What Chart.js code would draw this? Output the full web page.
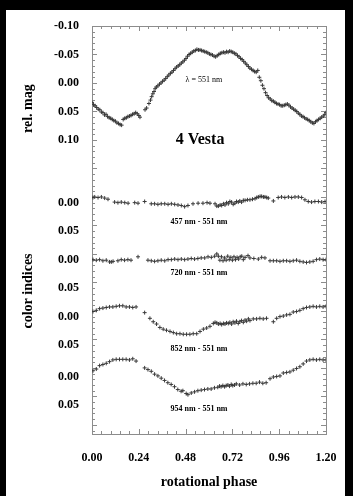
<!DOCTYPE html>
<html>
<head>
<meta charset="utf-8">
<script src="https://cdn.jsdelivr.net/npm/chart.js@4.4.1/dist/chart.umd.min.js"></script>
<style>
  html, body { margin: 0; padding: 0; background: #000; }
  body { width: 353px; height: 496px; position: relative; overflow: hidden; }
  #sheet { position: absolute; left: 6px; top: 10px; width: 339px; height: 486px; background: #fff; }
</style>
</head>
<body>
<div id="sheet"><canvas id="vesta" width="339" height="486"></canvas></div>
<script>
// rotational phase axis
const phaseTicks = [0, 0.24, 0.48, 0.72, 0.96, 1.20];
const phaseTickLabels = ["0.00", "0.24", "0.48", "0.72", "0.96", "1.20"];

// left axis: rel. mag on top, four colour-index strips stacked underneath
const magTicks = [-0.10, -0.05, 0.00, 0.05, 0.10, 0.21, 0.26, 0.31, 0.36, 0.41, 0.46, 0.515, 0.565];
const magTickLabels = ["-0.10", "-0.05", "0.00", "0.05", "0.10", "0.00", "0.05", "0.00", "0.05", "0.00", "0.05", "0.00", "0.05"];

// zero level of each colour-index strip on the shared axis
const zero457 = 0.21, zero720 = 0.31, zero852 = 0.41, zero954 = 0.515;

// lightcurve at 551 nm
const lightPhase = [
  0.000, 0.008, 0.016, 0.024, 0.032, 0.040, 0.048, 0.056, 0.064, 0.072, 0.080, 0.088, 0.096, 0.104, 0.112, 0.120,
  0.128, 0.136, 0.144, 0.152, 0.160, 0.168, 0.176, 0.184, 0.192, 0.200, 0.208, 0.216, 0.224, 0.232, 0.240, 0.246,
  0.272, 0.280, 0.292, 0.300, 0.306, 0.312, 0.318, 0.324, 0.330, 0.338, 0.346, 0.354, 0.362, 0.370, 0.378, 0.386,
  0.394, 0.402, 0.410, 0.418, 0.426, 0.434, 0.442, 0.450, 0.458, 0.466, 0.474, 0.482, 0.490, 0.498, 0.506, 0.514,
  0.522, 0.530, 0.538, 0.546, 0.554, 0.562, 0.570, 0.578, 0.586, 0.594, 0.602, 0.610, 0.618, 0.626, 0.634, 0.642,
  0.650, 0.658, 0.666, 0.674, 0.682, 0.690, 0.698, 0.706, 0.714, 0.722, 0.730, 0.738, 0.746, 0.754, 0.762, 0.770,
  0.778, 0.786, 0.794, 0.802, 0.810, 0.818, 0.826, 0.834, 0.842, 0.850, 0.858, 0.866, 0.874, 0.882, 0.890, 0.898,
  0.906, 0.914, 0.922, 0.930, 0.938, 0.946, 0.954, 0.962, 0.970, 0.978, 0.986, 0.994, 1.002, 1.010, 1.018, 1.026,
  1.034, 1.042, 1.050, 1.058, 1.066, 1.074, 1.082, 1.090, 1.098, 1.106, 1.114, 1.122, 1.130, 1.138, 1.146, 1.154,
  1.162, 1.170, 1.178, 1.186, 1.194, 1.200
];
const lightMag = [
  0.034, 0.038, 0.040, 0.043, 0.046, 0.047, 0.051, 0.052, 0.056, 0.055, 0.059, 0.061, 0.062, 0.064, 0.066, 0.067,
  0.070, 0.071, 0.073, 0.074, 0.064, 0.062, 0.061, 0.059, 0.058, 0.057, 0.055, 0.054, 0.052, 0.054, 0.057, 0.060,
  0.047, 0.044, 0.036, 0.030, 0.024, 0.019, 0.015, 0.010, 0.007, 0.005, 0.002, 0.000, -0.003, -0.005, -0.008, -0.011,
  -0.014, -0.017, -0.019, -0.022, -0.025, -0.028, -0.030, -0.032, -0.035, -0.037, -0.040, -0.043, -0.047, -0.050, -0.052, -0.054,
  -0.056, -0.057, -0.059, -0.058, -0.058, -0.057, -0.056, -0.055, -0.054, -0.053, -0.051, -0.050, -0.049, -0.047, -0.046, -0.048,
  -0.050, -0.052, -0.053, -0.054, -0.053, -0.055, -0.054, -0.056, -0.055, -0.054, -0.052, -0.051, -0.048, -0.046, -0.043, -0.041,
  -0.038, -0.035, -0.032, -0.029, -0.026, -0.024, -0.022, -0.020, -0.019, -0.022, -0.010, -0.004, 0.004, 0.010, 0.017, 0.022,
  0.026, 0.028, 0.031, 0.032, 0.034, 0.036, 0.037, 0.038, 0.040, 0.040, 0.039, 0.038, 0.037, 0.039, 0.042, 0.044,
  0.046, 0.048, 0.050, 0.053, 0.055, 0.058, 0.059, 0.061, 0.063, 0.064, 0.066, 0.068, 0.070, 0.071, 0.068, 0.066,
  0.064, 0.062, 0.060, 0.058, 0.055, 0.052
];

// 457 nm - 551 nm
const c457Phase = [
  0.005, 0.014, 0.031, 0.048, 0.065, 0.082, 0.116, 0.133, 0.150, 0.168, 0.185, 0.219, 0.236, 0.270, 0.304, 0.321,
  0.338, 0.355, 0.373, 0.390, 0.407, 0.424, 0.441, 0.458, 0.475, 0.492, 0.518, 0.544, 0.569, 0.590, 0.605, 0.631,
  0.640, 0.648, 0.657, 0.665, 0.674, 0.682, 0.690, 0.699, 0.707, 0.716, 0.724, 0.733, 0.741, 0.750, 0.758, 0.767,
  0.776, 0.785, 0.797, 0.810, 0.823, 0.836, 0.845, 0.853, 0.862, 0.870, 0.879, 0.887, 0.896, 0.904, 0.930, 0.955,
  0.972, 0.989, 1.007, 1.024, 1.041, 1.058, 1.075, 1.092, 1.109, 1.126, 1.143, 1.161, 1.178, 1.195
];
const c457Value = [
  -0.009, -0.010, -0.009, -0.010, -0.008, -0.006, -0.001, 0.000, -0.001, 0.000, 0.001, 0.000, 0.001, -0.002, 0.002, 0.002,
  0.003, 0.002, 0.002, 0.003, 0.002, 0.003, 0.004, 0.005, 0.007, 0.005, 0.002, 0.001, 0.001, 0.000, 0.001, 0.002,
  0.006, 0.006, 0.004, 0.005, 0.002, 0.004, 0.000, 0.002, -0.002, -0.001, 0.003, 0.001, -0.002, -0.001, -0.003, -0.001,
  -0.004, -0.004, -0.005, -0.005, -0.006, -0.007, -0.009, -0.010, -0.011, -0.011, -0.010, -0.010, -0.009, -0.008, -0.003, -0.009,
  -0.010, -0.009, -0.010, -0.009, -0.010, -0.010, -0.009, -0.005, -0.002, -0.001, -0.002, -0.002, -0.001, -0.002
];

// 720 nm - 551 nm
const c720Phase = [
  0.005, 0.022, 0.039, 0.056, 0.073, 0.090, 0.099, 0.108, 0.133, 0.150, 0.167, 0.184, 0.200, 0.236, 0.287, 0.304,
  0.321, 0.338, 0.355, 0.373, 0.390, 0.407, 0.424, 0.441, 0.458, 0.475, 0.492, 0.509, 0.526, 0.543, 0.560, 0.578,
  0.595, 0.612, 0.629, 0.640, 0.648, 0.656, 0.664, 0.672, 0.680, 0.688, 0.696, 0.704, 0.712, 0.720, 0.728, 0.736,
  0.744, 0.752, 0.760, 0.768, 0.776, 0.785, 0.800, 0.810, 0.830, 0.853, 0.870, 0.887, 0.913, 0.930, 0.947, 0.964,
  0.981, 0.998, 1.015, 1.032, 1.049, 1.066, 1.083, 1.100, 1.117, 1.134, 1.151, 1.168, 1.185, 1.200
];
const c720Value = [
  0.000, 0.001, 0.000, 0.002, 0.001, 0.004, 0.004, 0.003, 0.002, 0.000, 0.001, 0.000, 0.001, -0.005, 0.001, 0.002,
  0.003, 0.002, 0.001, 0.002, 0.000, 0.000, -0.001, 0.000, -0.001, 0.000, -0.001, -0.002, -0.001, -0.002, -0.003, -0.003,
  -0.005, -0.004, -0.006, -0.010, -0.006, 0.001, -0.005, 0.002, -0.003, 0.001, -0.006, 0.000, -0.004, 0.001, -0.005, 0.000,
  -0.004, -0.001, -0.005, -0.006, 0.000, -0.004, -0.007, -0.003, -0.002, -0.001, -0.004, -0.003, 0.002, 0.002, 0.002, 0.003,
  0.002, 0.002, 0.003, 0.002, 0.001, 0.003, 0.004, 0.005, 0.004, 0.003, 0.000, -0.001, 0.000, 0.000
];

// 852 nm - 551 nm
const c852Phase = [
  0.005, 0.022, 0.039, 0.056, 0.073, 0.090, 0.107, 0.124, 0.141, 0.158, 0.175, 0.192, 0.209, 0.226, 0.270, 0.297,
  0.314, 0.331, 0.348, 0.365, 0.382, 0.400, 0.417, 0.434, 0.451, 0.468, 0.485, 0.502, 0.519, 0.537, 0.554, 0.571,
  0.588, 0.605, 0.622, 0.631, 0.640, 0.648, 0.657, 0.665, 0.674, 0.682, 0.690, 0.699, 0.707, 0.716, 0.724, 0.733,
  0.741, 0.750, 0.758, 0.767, 0.776, 0.785, 0.793, 0.802, 0.810, 0.827, 0.844, 0.861, 0.878, 0.895, 0.930, 0.947,
  0.964, 0.981, 0.998, 1.015, 1.032, 1.049, 1.066, 1.083, 1.100, 1.117, 1.134, 1.151, 1.168, 1.185, 1.200
];
const c852Value = [
  -0.009, -0.011, -0.014, -0.015, -0.016, -0.017, -0.017, -0.018, -0.019, -0.019, -0.017, -0.017, -0.016, -0.017, -0.007, 0.003,
  0.009, 0.013, 0.019, 0.022, 0.024, 0.026, 0.028, 0.030, 0.030, 0.031, 0.031, 0.031, 0.030, 0.030, 0.026, 0.022,
  0.020, 0.017, 0.012, 0.010, 0.011, 0.013, 0.012, 0.014, 0.012, 0.013, 0.011, 0.012, 0.010, 0.013, 0.009, 0.011,
  0.008, 0.012, 0.009, 0.007, 0.010, 0.006, 0.008, 0.004, 0.007, 0.004, 0.004, 0.003, 0.004, 0.003, 0.009, 0.003,
  0.000, -0.001, -0.003, -0.004, -0.008, -0.009, -0.011, -0.014, -0.016, -0.017, -0.018, -0.017, -0.018, -0.017, -0.018
];

// 954 nm - 551 nm
const c954Phase = [
  0.005, 0.022, 0.039, 0.056, 0.073, 0.090, 0.107, 0.124, 0.141, 0.158, 0.175, 0.192, 0.209, 0.226, 0.270, 0.287,
  0.304, 0.321, 0.338, 0.355, 0.372, 0.389, 0.406, 0.423, 0.440, 0.457, 0.466, 0.483, 0.492, 0.509, 0.526, 0.543,
  0.560, 0.577, 0.594, 0.611, 0.628, 0.645, 0.654, 0.662, 0.671, 0.680, 0.688, 0.697, 0.705, 0.714, 0.722, 0.731,
  0.740, 0.757, 0.774, 0.791, 0.808, 0.825, 0.842, 0.859, 0.876, 0.893, 0.913, 0.930, 0.947, 0.964, 0.981, 0.998,
  1.015, 1.032, 1.049, 1.066, 1.083, 1.100, 1.117, 1.134, 1.151, 1.168, 1.185, 1.200
];
const c954Value = [
  -0.010, -0.013, -0.019, -0.021, -0.023, -0.026, -0.029, -0.030, -0.030, -0.030, -0.030, -0.029, -0.031, -0.027, -0.015, -0.012,
  -0.009, -0.004, -0.001, 0.003, 0.007, 0.011, 0.014, 0.018, 0.023, 0.026, 0.025, 0.030, 0.032, 0.029, 0.027, 0.025,
  0.024, 0.023, 0.022, 0.022, 0.020, 0.019, 0.017, 0.018, 0.016, 0.018, 0.016, 0.015, 0.017, 0.014, 0.016, 0.015,
  0.013, 0.015, 0.013, 0.014, 0.013, 0.012, 0.012, 0.010, 0.012, 0.011, 0.004, 0.001, 0.000, -0.001, -0.006, -0.007,
  -0.008, -0.011, -0.014, -0.017, -0.022, -0.027, -0.029, -0.030, -0.029, -0.030, -0.029, -0.029
];

function toPoints(phase, values, shift) {
  return phase.map((p, i) => ({ x: p, y: values[i] + shift }));
}

function crosses(data) {
  return {
    data: data,
    showLine: false,
    pointStyle: "cross",
    pointRadius: 2,
    pointHoverRadius: 2,
    pointBorderWidth: 1,
    pointBorderColor: "#3a3a3a",
    pointBackgroundColor: "#3a3a3a"
  };
}

const serif = "'Liberation Serif', 'DejaVu Serif', serif";

// frame with inward tick marks on all four sides
const frameTicks = {
  id: "frameTicks",
  beforeDatasetsDraw(chart) {
    const { ctx, chartArea: a, scales: { x, y } } = chart;
    ctx.save();
    ctx.strokeStyle = "#8c8c8c";
    ctx.lineWidth = 1;
    ctx.strokeRect(a.left + 0.5, a.top + 0.5, a.right - a.left, a.bottom - a.top);
    ctx.beginPath();
    for (let k = 0; k <= 25; k++) {
      const px = Math.round(x.getPixelForValue(k * 0.048)) + 0.5;
      const len = k % 5 === 0 ? 5 : 3;
      ctx.moveTo(px, a.top);
      ctx.lineTo(px, a.top + len);
      ctx.moveTo(px, a.bottom);
      ctx.lineTo(px, a.bottom - len);
    }
    for (let k = 0; k <= 71; k++) {
      const v = -0.10 + k * 0.01;
      if (v > y.max) break;
      const py = Math.round(y.getPixelForValue(v)) + 0.5;
      const len = k % 5 === 0 ? 5 : 3;
      ctx.moveTo(a.left, py);
      ctx.lineTo(a.left + len, py);
      ctx.moveTo(a.right, py);
      ctx.lineTo(a.right - len, py);
    }
    ctx.stroke();
    ctx.restore();
  }
};

// axis titles and curve labels
const captions = {
  id: "captions",
  afterDraw(chart) {
    const { ctx, chartArea: a, scales: { x, y } } = chart;
    ctx.save();
    ctx.fillStyle = "#000";
    ctx.textAlign = "center";
    ctx.textBaseline = "middle";

    ctx.font = "bold 14px " + serif;
    ctx.fillText("rotational phase", (a.left + a.right) / 2, 472);

    ctx.save();
    ctx.translate(22, y.getPixelForValue(0.045));
    ctx.rotate(-Math.PI / 2);
    ctx.fillText("rel. mag", 0, 0);
    ctx.restore();

    ctx.save();
    ctx.translate(22, y.getPixelForValue(0.365));
    ctx.rotate(-Math.PI / 2);
    ctx.fillText("color indices", 0, 0);
    ctx.restore();

    ctx.font = "bold 16px " + serif;
    ctx.fillText("4 Vesta", x.getPixelForValue(0.554), y.getPixelForValue(0.10));

    ctx.font = "8px " + serif;
    ctx.fillText("\u03bb = 551 nm", x.getPixelForValue(0.574), y.getPixelForValue(-0.006));

    ctx.font = "bold 8px " + serif;
    const cx = x.getPixelForValue(0.549);
    ctx.fillText("457 nm - 551 nm", cx, y.getPixelForValue(zero457 + 0.034));
    ctx.fillText("720 nm - 551 nm", cx, y.getPixelForValue(zero720 + 0.024));
    ctx.fillText("852 nm - 551 nm", cx, y.getPixelForValue(zero852 + 0.057));
    ctx.fillText("954 nm - 551 nm", cx, y.getPixelForValue(zero954 + 0.057));
    ctx.restore();
  }
};

new Chart(document.getElementById("vesta"), {
  type: "scatter",
  data: {
    datasets: [
      crosses(toPoints(lightPhase, lightMag, 0)),
      crosses(toPoints(c457Phase, c457Value, zero457)),
      crosses(toPoints(c720Phase, c720Value, zero720)),
      crosses(toPoints(c852Phase, c852Value, zero852)),
      crosses(toPoints(c954Phase, c954Value, zero954))
    ]
  },
  options: {
    responsive: false,
    animation: false,
    layout: { padding: { top: 16, right: 19, left: 0, bottom: 0 } },
    plugins: { legend: { display: false }, tooltip: { enabled: false } },
    scales: {
      x: {
        type: "linear",
        min: 0,
        max: 1.2,
        afterBuildTicks: (scale) => { scale.ticks = phaseTicks.map(v => ({ value: v })); },
        // fixed box: the end labels must not pull the plot frame inwards
        afterFit: (scale) => { scale.height = 62; scale.paddingLeft = 0; scale.paddingRight = 0; },
        grid: { display: false, drawTicks: false },
        border: { display: false },
        ticks: {
          autoSkip: false,
          maxRotation: 0,
          padding: 17,
          color: "#000",
          font: { family: serif, size: 12, weight: "bold" },
          callback: (value, index) => phaseTickLabels[index]
        }
      },
      y: {
        type: "linear",
        reverse: true,
        min: -0.10,
        max: 0.616,
        afterBuildTicks: (scale) => { scale.ticks = magTicks.map(v => ({ value: v })); },
        afterFit: (scale) => { scale.width = 86; scale.paddingTop = 0; scale.paddingBottom = 0; },
        grid: { display: false, drawTicks: false },
        border: { display: false },
        ticks: {
          autoSkip: false,
          padding: 13,
          color: "#000",
          font: { family: serif, size: 12, weight: "bold" },
          callback: (value, index) => magTickLabels[index]
        }
      }
    }
  },
  plugins: [frameTicks, captions]
});
</script>
</body>
</html>
